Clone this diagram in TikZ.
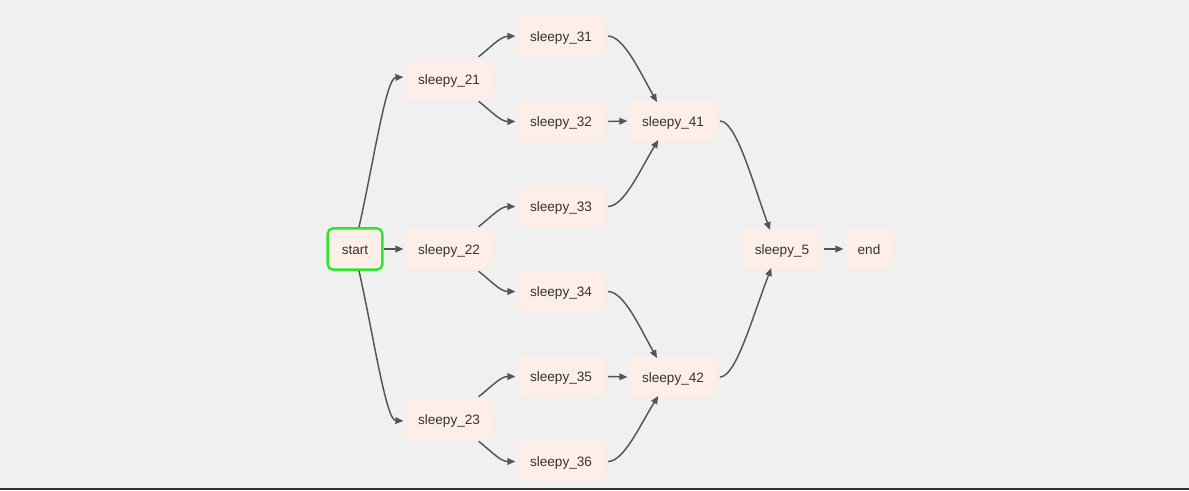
\documentclass[tikz,border=0pt]{standalone}
\usepackage{fontspec}
\setmainfont{Liberation Sans}
\usetikzlibrary{arrows.meta}
\definecolor{bg}{HTML}{F0F0F0}
\definecolor{boxfill}{HTML}{FDEEE8}
\definecolor{edge}{HTML}{555555}
\definecolor{txt}{HTML}{333333}
\definecolor{startgreen}{HTML}{2EE62E}
\begin{document}
\begin{tikzpicture}[x=0.75pt,y=-0.75pt,
  task/.style={fill=boxfill,draw=none,rounded corners=4pt,minimum width=66pt,minimum height=30pt,inner sep=0pt,text=txt,font=\fontsize{10.2}{12}\selectfont,text height=8.5pt,text depth=0.5pt},
  startbox/.style={task,draw=startgreen,line width=1.8pt,minimum width=41pt,minimum height=31pt},
  conn/.style={draw=edge,line width=1.1pt,-{Triangle[length=6pt,width=5pt]}}]
\fill[bg] (0,0) rectangle (1189,490);
\fill[black!80] (0,488) rectangle (1189,490);
\useasboundingbox (0,0) rectangle (1189,490);

\node[startbox] (start) at (355,249) {start};
\node[task] (s21) at (449,79) {sleepy\_21};
\node[task] (s22) at (449,249) {sleepy\_22};
\node[task] (s23) at (449,419) {sleepy\_23};
\node[task] (s31) at (561,36) {sleepy\_31};
\node[task] (s32) at (561,121.5) {sleepy\_32};
\node[task] (s33) at (561,206.5) {sleepy\_33};
\node[task] (s34) at (561,291.5) {sleepy\_34};
\node[task] (s35) at (561,376.5) {sleepy\_35};
\node[task] (s36) at (561,461.5) {sleepy\_36};
\node[task] (s41) at (673,121) {sleepy\_41};
\node[task] (s42) at (673,377) {sleepy\_42};
\node[task,minimum width=60pt] (s5) at (782,249) {sleepy\_5};
\node[task,minimum width=36pt] (end) at (869,249) {end};

% start edges
\draw[conn] ([xshift=3pt]start.north) .. controls (374,160) and (386,78) .. ([xshift=-1pt,yshift=1.5pt]s21.west);
\draw[conn] (start.east) -- ([xshift=-1pt]s22.west);
\draw[conn] ([xshift=3pt]start.south) .. controls (374,338) and (386,420) .. ([xshift=-1pt,yshift=-1.5pt]s23.west);

% level 2 -> 3
\draw[conn] ([xshift=-11pt,yshift=1.5pt]s21.north east) .. controls (490,48) and (500,36.5) .. ([xshift=-1pt]s31.west);
\draw[conn] ([xshift=-11pt,yshift=-1.5pt]s21.south east) .. controls (490,110) and (500,121.5) .. ([xshift=-1pt]s32.west);
\draw[conn] ([xshift=-11pt,yshift=1.5pt]s22.north east) .. controls (490,218) and (500,206.5) .. ([xshift=-1pt]s33.west);
\draw[conn] ([xshift=-11pt,yshift=-1.5pt]s22.south east) .. controls (490,280) and (500,291.5) .. ([xshift=-1pt]s34.west);
\draw[conn] ([xshift=-11pt,yshift=1.5pt]s23.north east) .. controls (490,388) and (500,376.5) .. ([xshift=-1pt]s35.west);
\draw[conn] ([xshift=-11pt,yshift=-1.5pt]s23.south east) .. controls (490,450) and (500,461.5) .. ([xshift=-1pt]s36.west);

% level 3 -> 4
\draw[conn] ([xshift=2pt]s31.east) .. controls (624,36.5) and (640,72) .. ([xshift=-12pt,yshift=-1pt]s41.north);
\draw[conn] ([xshift=2pt]s32.east) -- ([xshift=-1pt]s41.west);
\draw[conn] ([xshift=2pt]s33.east) .. controls (624,206.5) and (640,170) .. ([xshift=-11pt,yshift=1pt]s41.south);
\draw[conn] ([xshift=2pt]s34.east) .. controls (624,291.5) and (640,328) .. ([xshift=-12pt,yshift=-1pt]s42.north);
\draw[conn] ([xshift=2pt]s35.east) -- ([xshift=-1pt]s42.west);
\draw[conn] ([xshift=2pt]s36.east) .. controls (624,461.5) and (640,425) .. ([xshift=-11pt,yshift=1pt]s42.south);

% level 4 -> 5
\draw[conn] ([xshift=2pt]s41.east) .. controls (736,121) and (752,180) .. ([xshift=-9pt,yshift=-1pt]s5.north);
\draw[conn] ([xshift=2pt]s42.east) .. controls (736,377) and (752,318) .. ([xshift=-8pt,yshift=1pt]s5.south);
\draw[conn] ([xshift=1.5pt]s5.east) -- ([xshift=-1pt]end.west);
\end{tikzpicture}
\end{document}
